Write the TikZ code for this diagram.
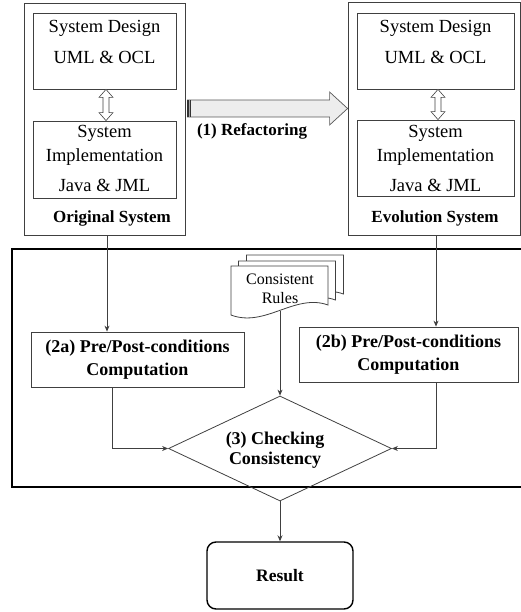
\documentclass[tikz,border=0pt]{standalone}
\usepackage{fontspec}
\setmainfont{Liberation Serif}
\usetikzlibrary{arrows.meta,calc,shapes.geometric}

% hollow double-headed arrow between two points (top, bottom)
\newcommand\hollowdbl[2]{%
  \draw[draw=black!75, fill=white, line width=0.6pt]
    (#1) -- ($(#1)+(7,8)$) -- ($(#1)+(3,8)$) -- ($(#2)+(3,-8)$) -- ($(#2)+(7,-8)$)
    -- (#2) -- ($(#2)+(-7,-8)$) -- ($(#2)+(-3,-8)$) -- ($(#1)+(-3,8)$)
    -- ($(#1)+(-7,8)$) -- cycle;}

% one sheet of the rules document, shifted by #1
\newcommand\rulesheet[1]{%
  \draw[draw=black!75, line width=0.8pt, fill=white, shift={#1}]
    (231,266) -- (328,266) -- (328,305)
    .. controls (295,293) and (265,328) .. (231,315) -- cycle;}

\begin{document}
\begin{tikzpicture}[x=1pt,y=-1pt,
  line/.style={draw=black!75, line width=0.8pt},
  box/.style={line, rectangle, inner sep=0pt},
  arr/.style={line, -{Stealth[length=6pt,width=5pt]}},
  txt/.style={inner sep=0pt, font=\fontsize{18.5}{22}\selectfont},
  btxt/.style={inner sep=0pt, font=\fontsize{17.5}{23}\selectfont\bfseries},
]
\useasboundingbox (0,0) rectangle (521,612);

% ---------- original system ----------
\node[box, minimum width=161pt, minimum height=232pt] (orig) at (104.5,119) {};
\node[box, minimum width=143pt, minimum height=76pt] (odes) at (104.5,51) {};
\node[box, minimum width=143pt, minimum height=77pt] (oimp) at (104.5,159.5) {};
\node[txt] (odes1) at (104.5,28) {System Design};
\node[txt] (odes2) at (104.5,57) {UML \& OCL};
\node[txt] (oimp1) at (104.5,133) {System};
\node[txt] (oimp2) at (104.5,157) {Implementation};
\node[txt] (oimp3) at (104.5,185) {Java \& JML};
\node[btxt, font=\fontsize{17}{20}\selectfont\bfseries] (olbl) at (112,218) {Original System};
\coordinate (oa) at ([xshift=1.5pt]odes.south);
\coordinate (ob) at ([xshift=1.5pt]oimp.north);
\hollowdbl{oa}{ob}

% ---------- evolution system ----------
\node[box, minimum width=172pt, minimum height=233pt] (evo) at (434,118.5) {};
\node[box, minimum width=157pt, minimum height=76pt] (edes) at (435.5,51) {};
\node[box, minimum width=157pt, minimum height=76pt] (eimp) at (435.5,158) {};
\node[txt] (edes1) at (435.5,28) {System Design};
\node[txt] (edes2) at (435.5,57) {UML \& OCL};
\node[txt] (eimp1) at (435.5,133) {System};
\node[txt] (eimp2) at (435.5,157) {Implementation};
\node[txt] (eimp3) at (435.5,185) {Java \& JML};
\node[btxt, font=\fontsize{17}{20}\selectfont\bfseries] (elbl) at (435,218) {Evolution System};
\coordinate (ea) at ([xshift=2.5pt]edes.south);
\coordinate (eb) at ([xshift=2.5pt]eimp.north);
\hollowdbl{ea}{eb}

% ---------- refactoring arrow ----------
\coordinate (rs) at ($(orig.east)+(2,-10.5)$);
\coordinate (rt) at (rs -| evo.west);
\draw[draw=black!65, fill=black!7, line width=0.7pt]
  ($(rs)+(0,-8.5)$) -- ($(rt)+(-18,-8.5)$) -- ($(rt)+(-18,-16.5)$) -- (rt)
  -- ($(rt)+(-18,16.5)$) -- ($(rt)+(-18,8.5)$) -- ($(rs)+(0,8.5)$) -- cycle;
\fill[black!80] ($(rs)+(0,-8.5)$) rectangle ($(rs)+(4,8.5)$);
\draw[black!35, line width=0.8pt] ($(rs)+(2,-8.5)$) -- ($(rs)+(2,8.5)$);
\node[btxt, font=\fontsize{17}{20}\selectfont\bfseries] (reflbl) at (252,131) {(1) Refactoring};

% ---------- checking frame ----------
\node[draw=black, line width=1.6pt, rectangle, minimum width=528pt, minimum height=238pt] (frame) at (276,368) {};

% consistent rules document
\rulesheet{(15.5,-11)}
\rulesheet{(7.5,-5)}
\rulesheet{(0,0)}
\node[inner sep=0pt, minimum width=97pt, minimum height=45pt, align=center,
      font=\fontsize{16}{19}\selectfont] (rules) at (280,288.5) {Consistent\\Rules};

% pre/post-condition computations
\node[box, minimum width=213pt, minimum height=55pt, align=center,
      font=\fontsize{18}{23}\selectfont\bfseries] (a2) at (137.5,359.5)
      {(2a) Pre/Post-conditions\\Computation};
\node[box, minimum width=219pt, minimum height=55pt, align=center,
      font=\fontsize{18}{23}\selectfont\bfseries] (b2) at (408.5,354.5)
      {(2b) Pre/Post-conditions\\Computation};

% consistency check
\node[diamond, line, inner sep=0pt, minimum width=223pt, minimum height=105pt] (chk) at (280,448.5) {};
\node[btxt, align=center, font=\fontsize{18}{20}\selectfont\bfseries] (chkt) at (275,450)
      {(3) Checking\\Consistency};

% result
\node[draw=black, line width=1.4pt, rounded corners=9pt, minimum width=146pt,
      minimum height=67pt, btxt] (res) at (280,575.5) {Result};

% ---------- connectors ----------
\coordinate (o1) at ([xshift=2.5pt]orig.south);
\coordinate (e1) at ([xshift=2pt]evo.south);
\coordinate (a1) at ([xshift=-25.5pt]a2.south);
\coordinate (b1) at ([xshift=27.5pt]b2.south);
\draw[arr] (o1) -- (o1 |- a2.north);
\draw[arr] (e1) -- (e1 |- b2.north);
\draw[arr] (a1) |- (chk.west);
\draw[arr] (b1) |- (chk.east);
\draw[arr] (rules.south) -- (chk.north);
\draw[arr] (chk.south) -- (res.north);
\end{tikzpicture}
\end{document}
